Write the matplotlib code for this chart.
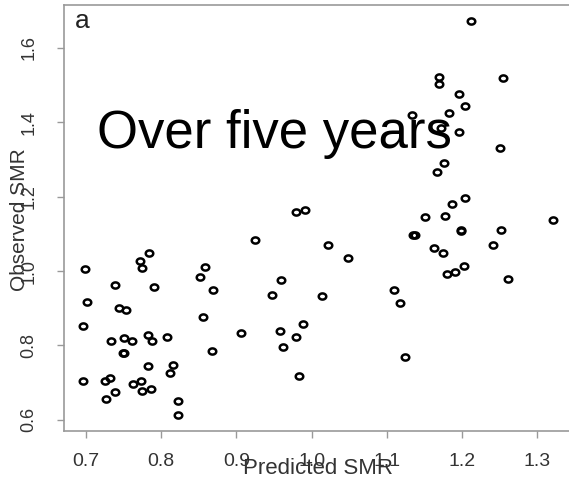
import numpy as np
import matplotlib
matplotlib.use('Agg')
import matplotlib.pyplot as plt
from matplotlib.path import Path

plt.rcParams['font.family'] = ['Liberation Sans', 'DejaVu Sans']

# Predicted vs observed SMR
predicted = [0.699, 0.701, 0.696, 0.696, 0.739, 0.744, 0.753, 0.733, 0.750, 0.761,
             0.749, 0.750, 0.772, 0.775, 0.784, 0.790, 0.782, 0.788, 0.807, 0.783,
             0.811, 0.816, 0.725, 0.732, 0.727, 0.739, 0.763, 0.773, 0.775, 0.787,
             0.822, 0.822, 0.852, 0.858, 0.869, 0.856, 0.867, 0.906, 0.947, 0.959,
             0.958, 0.962, 0.925, 0.979, 0.991, 1.022, 1.048, 1.014, 0.989, 0.979,
             0.983, 1.110, 1.117, 1.124, 1.163, 1.175, 1.180, 1.190, 1.202, 1.241,
             1.261, 1.212, 1.169, 1.169, 1.254, 1.196, 1.204, 1.182, 1.133, 1.172,
             1.196, 1.250, 1.176, 1.167, 1.204, 1.187, 1.177, 1.151, 1.321, 1.134,
             1.137, 1.198, 1.199, 1.251]
observed = [1.006, 0.916, 0.852, 0.705, 0.962, 0.902, 0.896, 0.811, 0.821, 0.812,
            0.780, 0.779, 1.027, 1.007, 1.048, 0.956, 0.828, 0.811, 0.824, 0.744,
            0.727, 0.748, 0.704, 0.712, 0.657, 0.674, 0.696, 0.704, 0.678, 0.682,
            0.650, 0.612, 0.983, 1.010, 0.949, 0.876, 0.785, 0.833, 0.935, 0.975,
            0.840, 0.797, 1.084, 1.160, 1.165, 1.071, 1.034, 0.933, 0.857, 0.824,
            0.717, 0.950, 0.913, 0.769, 1.062, 1.048, 0.991, 0.997, 1.014, 1.071,
            0.978, 1.671, 1.522, 1.504, 1.518, 1.476, 1.444, 1.425, 1.420, 1.384,
            1.373, 1.331, 1.290, 1.265, 1.195, 1.179, 1.149, 1.144, 1.138, 1.096,
            1.096, 1.111, 1.109, 1.111]

xticks = [0.7, 0.8, 0.9, 1.0, 1.1, 1.2, 1.3]
yticks = [0.6, 0.8, 1.0, 1.2, 1.4, 1.6]

W, H = 569, 480
fig = plt.figure(figsize=(W / 100, H / 100), dpi=100)
ax = fig.add_axes([64 / W, 1 - 430.7 / H, (W - 64) / W, (430.7 - 5) / H])

# slightly wide open circle, like the stretched original
t = np.linspace(0, 2 * np.pi, 64)
ring = Path(np.column_stack([np.cos(t), 0.82 * np.sin(t)]), closed=True)

ax.plot(predicted, observed, ls='none', marker=ring, ms=5.4,
        mfc='none', mec='black', mew=1.8)

ax.set_xlim(0.6707, 1.342)
ax.set_ylim(0.571, 1.715)
ax.set_xticks(xticks)
ax.set_xticklabels(['%.1f' % v for v in xticks])
ax.set_yticks(yticks)
ax.set_yticklabels(['%.1f' % v for v in yticks], rotation=90, va='center')

for side in ['left', 'bottom', 'top']:
    ax.spines[side].set_color('#999999')
    ax.spines[side].set_linewidth(1.2)
ax.spines['right'].set_visible(False)

ax.tick_params(axis='both', direction='out', length=5, width=1, color='#999999',
               labelcolor='#333333')
ax.tick_params(axis='x', labelsize=14, pad=11)
ax.tick_params(axis='y', labelsize=13, pad=14)

# the axis titles sit on top of the tick labels, as in the original
fig.text(318 / W, 1 - 474 / H, 'Predicted SMR', fontsize=16, color='#333333',
         ha='center', va='baseline')
fig.text(29 / W, 1 - 220 / H, 'Observed SMR', fontsize=15, color='#333333',
         rotation=90, ha='right', va='center')

fig.text(75 / W, 1 - 28 / H, 'a', fontsize=19, color='#222222', va='baseline')
fig.text(97 / W, 1 - 148 / H, 'Over five years', fontsize=38, color='black',
         va='baseline')

fig.savefig('out.png', dpi=100)
